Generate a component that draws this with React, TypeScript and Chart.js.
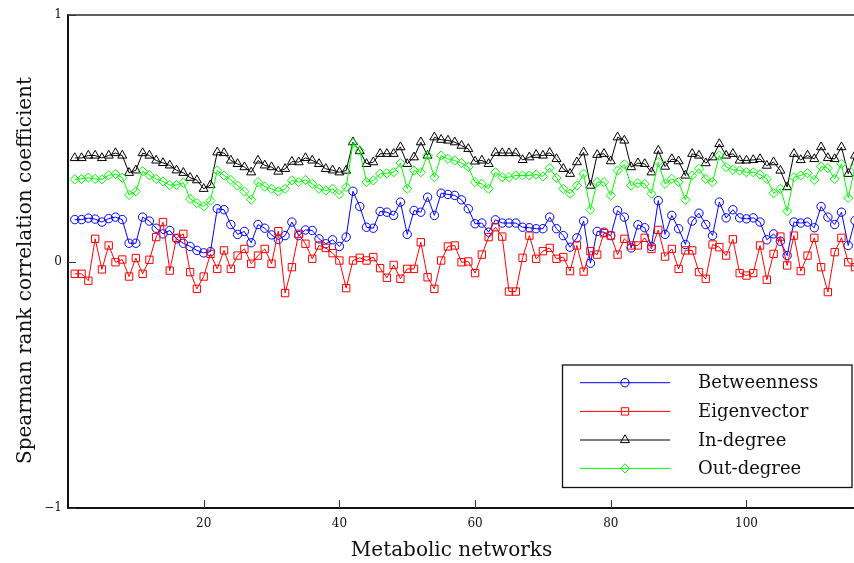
import React, { useEffect, useRef } from "react";
import { Chart, registerables } from "chart.js";

Chart.register(...registerables);

// ---------- data ----------
const networkIds: number[] = Array.from({ length: 116 }, (_, i) => i + 1);

const betweenness = [
  0.17, 0.17, 0.176, 0.172, 0.16, 0.174, 0.18, 0.17, 0.074, 0.074,
  0.18, 0.164, 0.135, 0.112, 0.126, 0.092, 0.074, 0.061, 0.045, 0.035,
  0.04, 0.214, 0.21, 0.15, 0.11, 0.122, 0.076, 0.15, 0.135, 0.108,
  0.089, 0.105, 0.16, 0.105, 0.128, 0.126, 0.092, 0.072, 0.088, 0.061,
  0.099, 0.285, 0.223, 0.139, 0.135, 0.203, 0.2, 0.187, 0.241, 0.11,
  0.207, 0.2, 0.261, 0.187, 0.277, 0.272, 0.268, 0.25, 0.214, 0.153,
  0.156, 0.119, 0.169, 0.156, 0.156, 0.156, 0.139, 0.137, 0.133, 0.133,
  0.18, 0.133, 0.105, 0.058, 0.096, 0.164, -0.007, 0.122, 0.119, 0.105,
  0.207, 0.18, 0.055, 0.149, 0.137, 0.061, 0.247, 0.11, 0.187, 0.133,
  0.069, 0.164, 0.196, 0.15, 0.105, 0.241, 0.177, 0.21, 0.177, 0.173,
  0.177, 0.16, 0.088, 0.112, 0.082, 0.024, 0.16, 0.156, 0.16, 0.137,
  0.223, 0.18, 0.15, 0.2, 0.065, 0.166,
];

const eigenvector = [
  -0.05, -0.05, -0.078, 0.092, -0.032, 0.065, -0.003, 0.008, -0.061, 0.014,
  -0.05, 0.007, 0.099, 0.16, -0.037, 0.096, 0.112, -0.043, -0.111, -0.061,
  0.031, -0.03, 0.045, -0.03, 0.024, 0.051, -0.009, 0.024, 0.051, -0.009,
  0.123, -0.128, -0.023, 0.112, 0.072, 0.011, 0.065, 0.055, 0.034, 0.004,
  -0.108, 0.004, 0.015, 0.004, 0.018, -0.027, -0.066, -0.014, -0.07, -0.03,
  -0.03, 0.078, -0.064, -0.111, 0.004, 0.061, 0.065, -0.003, 0.0, -0.047,
  0.028, 0.099, 0.139, 0.101, -0.122, -0.122, 0.015, 0.105, 0.011, 0.042,
  0.055, 0.011, 0.018, -0.039, 0.065, -0.041, 0.042, 0.028, 0.115, 0.105,
  0.028, 0.092, 0.065, 0.065, 0.096, 0.051, 0.128, 0.02, 0.051, -0.03,
  0.045, 0.045, -0.043, -0.07, 0.069, 0.058, 0.024, 0.09, -0.047, -0.057,
  -0.047, 0.065, -0.074, 0.031, 0.101, -0.016, 0.105, -0.039, 0.024, 0.096,
  -0.023, -0.124, 0.038, 0.096, -0.003, -0.023,
];

const inDegree = [
  0.42, 0.42, 0.43, 0.43, 0.42, 0.43, 0.44, 0.43, 0.36, 0.37,
  0.44, 0.43, 0.41, 0.4, 0.39, 0.37, 0.36, 0.34, 0.33, 0.295,
  0.31, 0.443, 0.44, 0.41, 0.396, 0.383, 0.362, 0.41, 0.39, 0.383,
  0.365, 0.376, 0.405, 0.403, 0.42, 0.41, 0.396, 0.376, 0.37, 0.362,
  0.369, 0.484, 0.448, 0.396, 0.403, 0.437, 0.437, 0.437, 0.464, 0.396,
  0.423, 0.484, 0.43, 0.504, 0.494, 0.491, 0.484, 0.47, 0.457, 0.406,
  0.41, 0.396, 0.441, 0.44, 0.44, 0.44, 0.412, 0.423, 0.433, 0.43,
  0.441, 0.416, 0.376, 0.356, 0.403, 0.443, 0.308, 0.433, 0.437, 0.407,
  0.504, 0.491, 0.383, 0.399, 0.396, 0.362, 0.45, 0.385, 0.416, 0.407,
  0.349, 0.437, 0.43, 0.399, 0.423, 0.477, 0.43, 0.437, 0.41, 0.41,
  0.412, 0.416, 0.389, 0.403, 0.369, 0.302, 0.437, 0.412, 0.43, 0.416,
  0.464, 0.42, 0.416, 0.464, 0.356, 0.43,
];

const outDegree = [
  0.333, 0.335, 0.34, 0.335, 0.333, 0.35, 0.355, 0.34, 0.27, 0.285,
  0.366, 0.35, 0.335, 0.325, 0.31, 0.31, 0.32, 0.254, 0.237, 0.223,
  0.247, 0.369, 0.349, 0.331, 0.308, 0.284, 0.251, 0.322, 0.304, 0.295,
  0.284, 0.295, 0.329, 0.322, 0.331, 0.315, 0.295, 0.288, 0.295, 0.272,
  0.302, 0.48, 0.45, 0.322, 0.329, 0.356, 0.358, 0.362, 0.399, 0.295,
  0.369, 0.362, 0.43, 0.342, 0.43, 0.416, 0.41, 0.399, 0.383, 0.322,
  0.315, 0.295, 0.362, 0.342, 0.342, 0.349, 0.349, 0.349, 0.353, 0.345,
  0.379, 0.339, 0.295, 0.275, 0.308, 0.356, 0.21, 0.322, 0.322, 0.268,
  0.369, 0.394, 0.308, 0.318, 0.315, 0.275, 0.403, 0.315, 0.335, 0.322,
  0.25, 0.349, 0.376, 0.335, 0.322, 0.43, 0.383, 0.372, 0.369, 0.362,
  0.362, 0.353, 0.335, 0.277, 0.295, 0.204, 0.342, 0.349, 0.358, 0.331,
  0.385, 0.379, 0.335, 0.396, 0.258, 0.383,
];

const seriesNames = ["Betweenness", "Eigenvector", "In-degree", "Out-degree"];
const xTickValues = [20, 40, 60, 80, 100];
const yTickValues = [-1, 0, 1];
const xTitle = "Metabolic networks";
const yTitle = "Spearman rank correlation coefficient";

// ---------- styles ----------
const FONT = "'DejaVu Serif', 'Liberation Serif', serif";
const seriesStyles = [
  { color: "#0000ff", pointStyle: "circle", radius: 4.2, order: 3 },
  { color: "#ff0000", pointStyle: "rect", radius: 5.2, order: 2 },
  { color: "#000000", pointStyle: "triangle", radius: 5.2, order: 1 },
  { color: "#00ff00", pointStyle: "rectRot", radius: 4.6, order: 0 },
];

function drawMarker(ctx: CanvasRenderingContext2D, style: string, x: number, y: number, r: number) {
  ctx.beginPath();
  if (style === "circle") {
    ctx.arc(x, y, r, 0, Math.PI * 2);
  } else if (style === "rect") {
    const s = Math.SQRT1_2 * r;
    ctx.rect(x - s, y - s, 2 * s, 2 * s);
  } else if (style === "triangle") {
    for (let k = 0; k < 3; k++) {
      const a = (k * 2 * Math.PI) / 3;
      const px = x + Math.sin(a) * r;
      const py = y - Math.cos(a) * r;
      if (k === 0) ctx.moveTo(px, py);
      else ctx.lineTo(px, py);
    }
    ctx.closePath();
  } else {
    ctx.moveTo(x, y - r);
    ctx.lineTo(x + r, y);
    ctx.lineTo(x, y + r);
    ctx.lineTo(x - r, y);
    ctx.closePath();
  }
  ctx.stroke();
}

const framePlugin = {
  id: "matlabFrame",
  afterDatasetsDraw(chart: any) {
    const { ctx, chartArea: a, scales } = chart;
    ctx.save();
    ctx.lineCap = "butt";
    ctx.strokeStyle = "#2a2a2a";
    ctx.lineWidth = 1.5;
    ctx.beginPath();
    ctx.moveTo(a.left, a.top);
    ctx.lineTo(a.right, a.top);
    ctx.stroke();
    ctx.strokeStyle = "#111";
    ctx.lineWidth = 2;
    ctx.beginPath();
    ctx.moveTo(a.left, a.top - 0.75);
    ctx.lineTo(a.left, a.bottom);
    ctx.lineTo(a.right, a.bottom);
    ctx.stroke();
    ctx.strokeStyle = "#333";
    ctx.lineWidth = 1;
    ctx.beginPath();
    for (const t of scales.x.ticks) {
      const px = Math.round(scales.x.getPixelForValue(t.value)) + 0.5;
      ctx.moveTo(px, a.bottom);
      ctx.lineTo(px, a.bottom - 8);
    }
    for (const t of scales.y.ticks) {
      const py = Math.round(scales.y.getPixelForValue(t.value)) + 0.5;
      ctx.moveTo(a.left, py);
      ctx.lineTo(a.left + 8, py);
    }
    ctx.stroke();
    ctx.restore();
  },
};

const titlesLegendPlugin = {
  id: "titlesLegend",
  afterDraw(chart: any) {
    const { ctx } = chart;
    ctx.save();
    ctx.fillStyle = "#111";
    ctx.font = `20px ${FONT}`;
    ctx.textAlign = "center";
    ctx.textBaseline = "alphabetic";
    ctx.fillText(xTitle, 451.5, 556);
    ctx.save();
    ctx.translate(31, 270.5);
    ctx.rotate(-Math.PI / 2);
    ctx.fillText(yTitle, 0, 0);
    ctx.restore();

    const bx = 562.5, by = 365, bw = 289.5, bh = 122.5;
    ctx.fillStyle = "#ffffff";
    ctx.fillRect(bx, by, bw, bh);
    ctx.strokeStyle = "#111";
    ctx.lineWidth = 1.3;
    ctx.strokeRect(bx, by, bw, bh);
    const rowY = [382.7, 411.4, 440, 468.4];
    ctx.font = `18px ${FONT}`;
    ctx.textAlign = "left";
    ctx.textBaseline = "middle";
    seriesNames.forEach((name, i) => {
      const st = seriesStyles[i];
      const y = rowY[i];
      ctx.strokeStyle = st.color;
      ctx.lineWidth = 1;
      ctx.beginPath();
      ctx.moveTo(580, y);
      ctx.lineTo(670, y);
      ctx.stroke();
      drawMarker(ctx, st.pointStyle, 625, y, st.radius);
      ctx.fillStyle = "#111";
      ctx.fillText(name, 698, y + 1);
    });
    ctx.restore();
  },
};

export default function App() {
  const canvasRef = useRef<HTMLCanvasElement | null>(null);

  useEffect(() => {
    if (!canvasRef.current) return;
    const seriesValues = [betweenness, eigenvector, inDegree, outDegree];
    const datasets = seriesValues.map((vals, i) => ({
      label: seriesNames[i],
      data: vals.map((v, k) => ({ x: networkIds[k], y: v })),
      borderColor: seriesStyles[i].color,
      backgroundColor: "rgba(0,0,0,0)",
      pointBackgroundColor: "rgba(0,0,0,0)",
      pointBorderColor: seriesStyles[i].color,
      pointStyle: seriesStyles[i].pointStyle,
      pointRadius: seriesStyles[i].radius,
      pointBorderWidth: 1,
      borderWidth: 1,
      tension: 0,
      fill: false,
      order: seriesStyles[i].order,
    }));

    const chart = new Chart(canvasRef.current, {
      type: "line",
      data: { datasets },
      plugins: [framePlugin, titlesLegendPlugin],
      options: {
        responsive: false,
        animation: false,
        devicePixelRatio: 1,
        layout: { autoPadding: false, padding: { top: 15, right: 0, left: 0, bottom: 0 } },
        plugins: {
          legend: { display: false },
          tooltip: { enabled: false },
          title: { display: false },
        },
        scales: {
          x: {
            type: "linear",
            min: 0,
            max: 115.85,
            grid: { display: false, drawTicks: false },
            border: { display: false },
            afterBuildTicks: (scale: any) => {
              scale.ticks = xTickValues.map((v) => ({ value: v }));
            },
            afterFit: (scale: any) => {
              scale.height = 55;
              scale.paddingLeft = 0;
              scale.paddingRight = 0;
            },
            ticks: {
              autoSkip: false,
              maxRotation: 0,
              padding: 9,
              color: "#111",
              font: { family: FONT, size: 12 },
              callback: (v: any) => String(v),
            },
          },
          y: {
            type: "linear",
            min: -1,
            max: 1,
            grid: { display: false, drawTicks: false },
            border: { display: false },
            afterBuildTicks: (scale: any) => {
              scale.ticks = yTickValues.map((v) => ({ value: v }));
            },
            afterFit: (scale: any) => {
              scale.width = 68;
              scale.paddingTop = 0;
              scale.paddingBottom = 0;
            },
            ticks: {
              autoSkip: false,
              padding: 6,
              color: "#111",
              font: { family: FONT, size: 12 },
              callback: (v: any) => (v < 0 ? "\u2212" + Math.abs(v) : String(v)),
            },
          },
        },
      } as any,
    });
    return () => chart.destroy();
  }, []);

  return (
    <div style={{ position: "fixed", left: 0, top: 0, width: 854, height: 563, background: "#fff" }}>
      <canvas ref={canvasRef} width={854} height={563} style={{ display: "block" }} />
    </div>
  );
}
